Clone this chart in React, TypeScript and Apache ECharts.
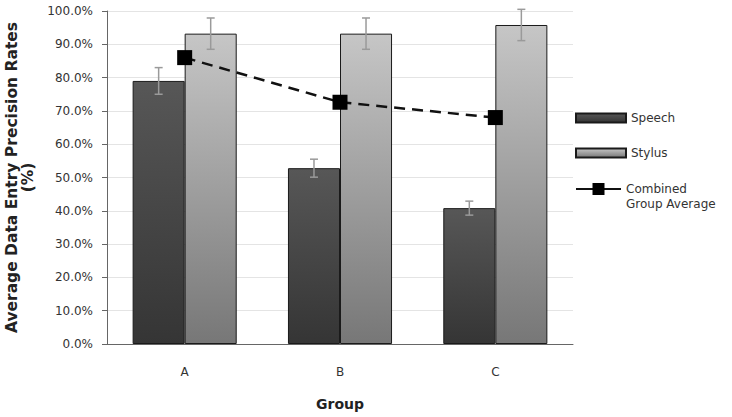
import React, { useEffect, useRef } from "react";
import * as echarts from "echarts";

const categories = ["A", "B", "C"];
const speech = [79, 52.8, 40.8];
const speechErr = [4, 2.7, 2.1];
const stylus = [93.2, 93.2, 95.8];
const stylusErr = [4.7, 4.7, 4.7];
const combined = [86, 72.6, 68];

const FONT = "DejaVu Sans";
const CAT_GAP = 0.33;

function errorSeries(id: string, vals: number[], errs: number[], side: number) {
  return {
    type: "custom",
    id,
    name: id,
    silent: true,
    z: 3,
    data: vals.map((v, i) => [i, v, errs[i]]),
    encode: { x: 0, y: 1 },
    renderItem: (_params: any, api: any) => {
      const i = api.value(0);
      const v = api.value(1);
      const e = api.value(2);
      const band = api.size([1, 0])[0];
      const bw = (band * (1 - CAT_GAP)) / 2;
      const c = api.coord([i, v]);
      const x = c[0] + (side * bw) / 2;
      const top = api.coord([i, v + e])[1];
      const bot = api.coord([i, v - e])[1];
      const cap = 4;
      const st = { stroke: "#9a9a9a", lineWidth: 1.5 };
      return {
        type: "group",
        children: [
          { type: "line", shape: { x1: x, y1: top, x2: x, y2: bot }, style: st },
          { type: "line", shape: { x1: x - cap, y1: top, x2: x + cap, y2: top }, style: st },
          { type: "line", shape: { x1: x - cap, y1: bot, x2: x + cap, y2: bot }, style: st },
        ],
      };
    },
  };
}

export default function App() {
  const ref = useRef<HTMLDivElement>(null);
  useEffect(() => {
    const chart = echarts.init(ref.current!, null, { renderer: "svg" });
    const grad = (a: string, b: string) =>
      new echarts.graphic.LinearGradient(0, 0, 0, 1, [
        { offset: 0, color: a },
        { offset: 1, color: b },
      ]);
    const legendText = { fontFamily: FONT, fontSize: 12, color: "#333", lineHeight: 15 };
    chart.setOption({
      animation: false,
      backgroundColor: "#fff",
      textStyle: { fontFamily: FONT },
      grid: { left: 107, right: 159, top: 11, bottom: 73, outerBoundsMode: "none", containLabel: false },
      legend: [
        {
          orient: "vertical",
          left: 570,
          top: 105.5,
          itemWidth: 50,
          itemHeight: 9,
          itemGap: 20,
          textStyle: legendText,
          data: [
            { name: "Speech", icon: "rect" },
            { name: "Stylus", icon: "rect" },
          ],
        },
        {
          orient: "vertical",
          left: 570,
          top: 161.5,
          itemWidth: 45,
          itemHeight: 15,
          textStyle: legendText,
          formatter: () => "\u00a0\nCombined\nGroup Average",
          data: [{ name: "Combined Group Average", lineStyle: { type: "solid", width: 2 } }],
        },
      ],
      xAxis: {
        type: "category",
        data: categories,
        name: "Group",
        nameLocation: "middle",
        nameGap: 53,
        nameTextStyle: { fontFamily: FONT, fontSize: 14, fontWeight: "bold", color: "#222" },
        axisLine: { lineStyle: { color: "#666", width: 1 } },
        axisTick: { length: 5, lineStyle: { color: "#666" } },
        axisLabel: { margin: 22, fontSize: 12, color: "#333", fontFamily: FONT },
      },
      yAxis: {
        type: "value",
        min: 0,
        max: 100,
        interval: 10,
        name: "Average Data Entry Precision Rates\n(%)",
        nameLocation: "middle",
        nameRotate: 90,
        nameGap: 56,
        nameTextStyle: { fontFamily: FONT, fontSize: 15.5, fontWeight: "bold", color: "#222", lineHeight: 16 },
        axisLine: { show: true, lineStyle: { color: "#666", width: 1 } },
        axisTick: { show: true, length: 5, lineStyle: { color: "#666" } },
        axisLabel: {
          margin: 14,
          fontSize: 12,
          color: "#333",
          fontFamily: FONT,
          formatter: (v: number) => v.toFixed(1) + "%",
        },
        splitLine: { lineStyle: { color: "#e4e4e4", width: 1 } },
      },
      series: [
        {
          type: "bar",
          name: "Speech",
          data: speech,
          barGap: "0%",
          barCategoryGap: CAT_GAP * 100 + "%",
          itemStyle: { color: grad("#575757", "#353535"), borderColor: "#1a1a1a", borderWidth: 1 },
          z: 2,
        },
        {
          type: "bar",
          name: "Stylus",
          data: stylus,
          barGap: "0%",
          barCategoryGap: CAT_GAP * 100 + "%",
          itemStyle: { color: grad("#c6c6c6", "#777777"), borderColor: "#1a1a1a", borderWidth: 1 },
          z: 2,
        },
        errorSeries("speechErr", speech, speechErr, -1),
        errorSeries("stylusErr", stylus, stylusErr, 1),
        {
          type: "line",
          name: "Combined Group Average",
          data: combined,
          symbol: "rect",
          symbolSize: 15,
          z: 5,
          itemStyle: { color: "#000" },
          lineStyle: { color: "#111", width: 2.5, type: [11, 7] },
        },
      ],
    });
    return () => chart.dispose();
  }, []);
  return <div ref={ref} style={{ width: 732, height: 417, position: "absolute", left: 0, top: 0 }} />;
}
